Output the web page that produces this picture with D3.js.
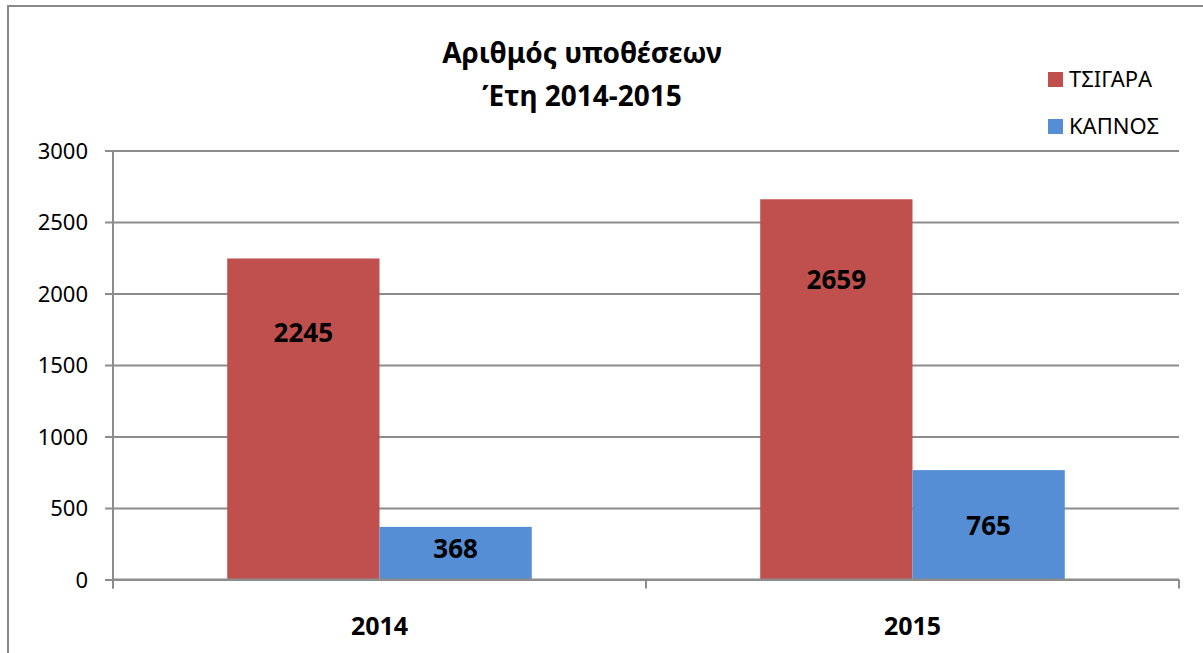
<!DOCTYPE html>
<html>
<head>
<meta charset="utf-8">
<script src="https://cdn.jsdelivr.net/npm/d3@7"></script>
<style>
  body { margin: 0; background: #fff; }
  text { font-family: "Noto Sans", "Open Sans", sans-serif; }
</style>
</head>
<body>
<div class="canvas"></div>
<script>
// chart data
const years = ['2014', '2015'];
const seriesNames = ['ΤΣΙΓΑΡΑ', 'ΚΑΠΝΟΣ'];
const tsigara = [2245, 2659];
const kapnos = [368, 765];
const yTicks = [0, 500, 1000, 1500, 2000, 2500, 3000];
const titleLines = ['Αριθμός υποθέσεων', 'Έτη 2014-2015'];

// label nudges below bar top (px), one per bar: series x year
const labelDy = [[74, 80], [22, 56]];

const colors = ['#c0504d', '#558ed5'];

const dim = { width: 1203, height: 653 };
const plot = { left: 113, right: 1179, top: 150.5, bottom: 579.5 };

const svg = d3.select('.canvas').append('svg')
    .attr('width', dim.width)
    .attr('height', dim.height);

// outer chart border (runs off the right and bottom edge)
svg.append('rect')
    .attr('x', 8).attr('y', 6)
    .attr('width', 1400).attr('height', 800)
    .attr('fill', 'none')
    .attr('stroke', '#888')
    .attr('stroke-width', 2);

const x = d3.scaleBand()
    .domain(years)
    .range([plot.left, plot.right])
    .paddingInner(0).paddingOuter(0);

const x1 = d3.scaleBand()
    .domain(seriesNames)
    .range([0, x.bandwidth()])
    .paddingInner(0)
    .paddingOuter(0.75);

const y = d3.scaleLinear()
    .domain([0, 3000])
    .range([plot.bottom, plot.top]);

// gridlines + y axis
const yAxis = d3.axisLeft(y)
    .tickValues(yTicks)
    .tickFormat(d3.format('d'))
    .tickSize(-(plot.right - plot.left))
    .tickPadding(25);

const yg = svg.append('g')
    .attr('transform', `translate(${plot.left},0)`)
    .call(yAxis);
yg.select('.domain').remove();
yg.selectAll('.tick line')
    .attr('x1', -8)
    .attr('stroke', '#8c8c8c')
    .attr('stroke-width', 2);
yg.selectAll('.tick text')
    .attr('font-size', 22)
    .attr('fill', '#000')
    .attr('font-family', '"Noto Sans", sans-serif')
    .attr('dy', '0.36em');

// bars
const series = [tsigara, kapnos];
const groups = svg.append('g');
series.forEach((vals, si) => {
    groups.selectAll(`.bar-${si}`)
        .data(vals)
        .enter().append('rect')
        .attr('class', `bar-${si}`)
        .attr('x', (d, i) => x(years[i]) + x1(seriesNames[si]))
        .attr('width', x1.bandwidth())
        .attr('y', d => y(d))
        .attr('height', d => y(0) - y(d))
        .attr('fill', colors[si]);

    groups.selectAll(`.lbl-${si}`)
        .data(vals)
        .enter().append('text')
        .attr('class', `lbl-${si}`)
        .attr('x', (d, i) => x(years[i]) + x1(seriesNames[si]) + x1.bandwidth() / 2)
        .attr('y', (d, i) => y(d) + labelDy[si][i])
        .attr('dy', '0.36em')
        .attr('text-anchor', 'middle')
        .attr('font-size', 26)
        .attr('font-weight', 'bold')
        .text(d => d);
});

// vertical axis line
svg.append('line')
    .attr('x1', plot.left).attr('x2', plot.left)
    .attr('y1', plot.top).attr('y2', plot.bottom + 9)
    .attr('stroke', '#8c8c8c').attr('stroke-width', 2);

// x axis
const xAxis = d3.axisBottom(x).tickSize(0).tickPadding(38);
const xg = svg.append('g')
    .attr('transform', `translate(0,${plot.bottom})`)
    .call(xAxis);
xg.select('.domain').attr('stroke', '#8c8c8c').attr('stroke-width', 2)
    .attr('d', `M${plot.left},0H${plot.right}`);
xg.selectAll('.tick text')
    .attr('font-size', 25)
    .attr('font-weight', 'bold')
    .attr('fill', '#000')
    .attr('font-family', '"Noto Sans", sans-serif')
    .attr('x', x1(seriesNames[1]) - x.bandwidth() / 2);

// category boundary ticks
const bounds = years.map(d => x(d)).concat([plot.right]);
svg.append('g').selectAll('line')
    .data(bounds)
    .enter().append('line')
    .attr('x1', d => d).attr('x2', d => d)
    .attr('y1', plot.bottom).attr('y2', plot.bottom + 9)
    .attr('stroke', '#8c8c8c').attr('stroke-width', 2);

// title
svg.append('text')
    .attr('x', 582)
    .attr('text-anchor', 'middle')
    .attr('font-size', 28)
    .attr('font-weight', 'bold')
    .selectAll('tspan')
    .data(titleLines)
    .enter().append('tspan')
    .attr('x', 582)
    .attr('y', (d, i) => 63 + i * 43)
    .text(d => d);

// legend
const legend = svg.append('g').attr('transform', 'translate(1048,72)');
const item = legend.selectAll('g')
    .data(seriesNames)
    .enter().append('g')
    .attr('transform', (d, i) => `translate(0,${i * 47})`);
item.append('rect')
    .attr('width', 15).attr('height', 15)
    .attr('fill', (d, i) => colors[i]);
item.append('text')
    .attr('x', 21).attr('y', 15)
    .attr('font-size', 22)
    .text(d => d);
</script>
</body>
</html>
